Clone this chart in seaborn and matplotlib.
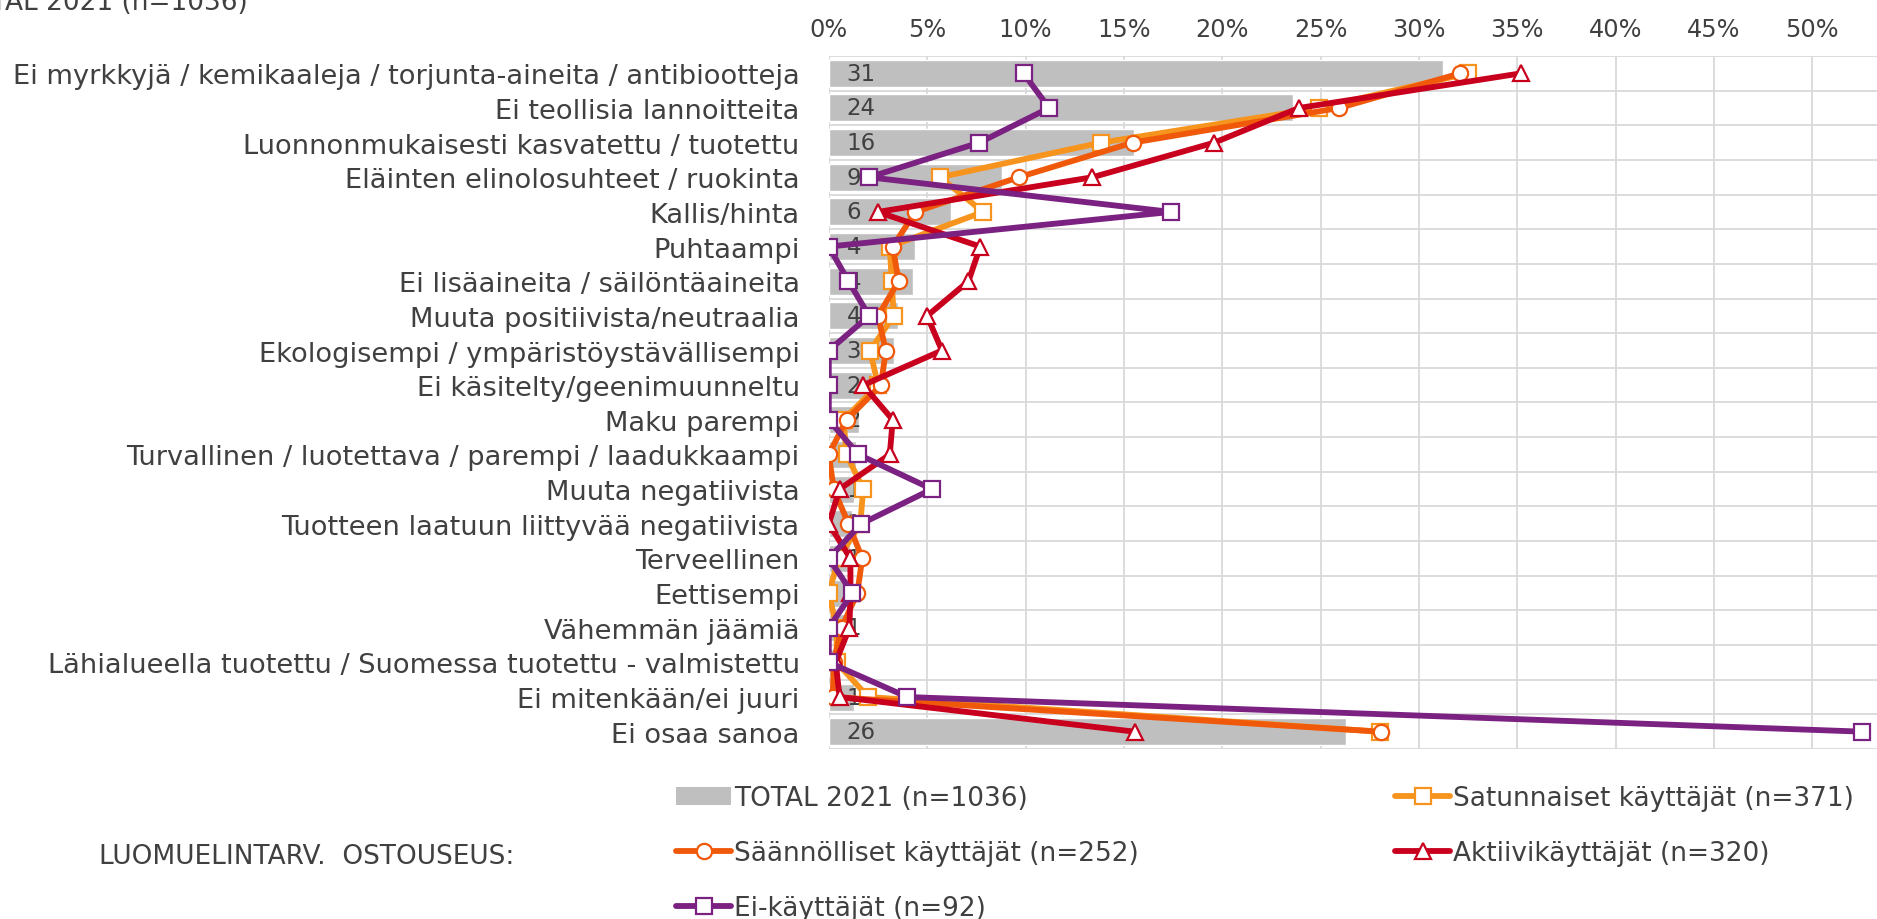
import numpy as np
import pandas as pd
import matplotlib
matplotlib.use("Agg")
import matplotlib.pyplot as plt
from matplotlib.lines import Line2D
from matplotlib.patches import Patch
import seaborn as sns

# Reasons given for organic food being different (%), by buyer group
categories = [
    "Ei myrkkyjä / kemikaaleja / torjunta-aineita / antibiootteja",
    "Ei teollisia lannoitteita",
    "Luonnonmukaisesti kasvatettu / tuotettu",
    "Eläinten elinolosuhteet / ruokinta",
    "Kallis/hinta",
    "Puhtaampi",
    "Ei lisäaineita / säilöntäaineita",
    "Muuta positiivista/neutraalia",
    "Ekologisempi / ympäristöystävällisempi",
    "Ei käsitelty/geenimuunneltu",
    "Maku parempi",
    "Turvallinen / luotettava / parempi / laadukkaampi",
    "Muuta negatiivista",
    "Tuotteen laatuun liittyvää negatiivista",
    "Terveellinen",
    "Eettisempi",
    "Vähemmän jäämiä",
    "Lähialueella tuotettu / Suomessa tuotettu - valmistettu",
    "Ei mitenkään/ei juuri",
    "Ei osaa sanoa",
]

total_2021 = [31.2, 23.6, 15.5, 8.8, 6.2, 4.4, 4.3, 3.5, 3.3, 2.2,
              1.55, 1.4, 1.3, 1.2, 1.1, 1.1, 0.9, 0.4, 1.3, 26.3]
satunnaiset = [32.5, 24.9, 13.85, 5.65, 7.85, 3.1, 3.2, 3.3, 2.1, 2.5,
               0.75, 0.9, 1.75, 1.6, 0.5, 0.0, 0.4, 0.4, 2.0, 28.0]
saannolliset = [32.1, 25.95, 15.45, 9.65, 4.4, 3.25, 3.55, 2.5, 2.9, 2.65,
                0.9, 0.0, 0.25, 1.0, 1.7, 1.45, 0.65, 0.25, 0.2, 28.05]
aktiivi = [35.2, 23.9, 19.6, 13.4, 2.5, 7.7, 7.1, 5.0, 5.75, 1.75,
           3.25, 3.1, 0.55, 0.0, 1.1, 1.1, 1.05, 0.35, 0.55, 15.55]
ei_kayttajat = [9.9, 11.2, 7.65, 2.05, 17.4, 0.0, 1.0, 2.05, 0.0, 0.0,
                0.0, 1.5, 5.25, 1.65, 0.0, 1.2, 0.0, 0.0, 4.0, 52.55]

x_ticks = [0, 5, 10, 15, 20, 25, 30, 35, 40, 45, 50]

label_total = "TOTAL 2021 (n=1036)"
series = [
    ("Satunnaiset käyttäjät (n=371)", satunnaiset, "#F7941D", "s", 11),
    ("Säännölliset käyttäjät (n=252)", saannolliset, "#F0580A", "o", 11),
    ("Aktiivikäyttäjät (n=320)", aktiivi, "#C8001E", "^", 12),
    ("Ei-käyttäjät (n=92)", ei_kayttajat, "#7B2181", "s", 11),
]

TEXT = "#404040"
GRID = "#D9D9D9"
FS_CAT = 19.6
FS_TICK = 17.3
FS_BAR = 16.5
FS_LEG = 19

sns.set_theme(style="white")
plt.rcParams["font.family"] = ["DejaVu Sans"]

W, H = 1877, 920
fig = plt.figure(figsize=(W / 100, H / 100), dpi=100)
left_px, right_px, top_px, bottom_px = 828.8, 1877, 57, 750
ax = fig.add_axes([left_px / W, 1 - bottom_px / H,
                   (right_px - left_px) / W, (bottom_px - top_px) / H])

df = pd.DataFrame({"kategoria": categories, "arvo": total_2021})
sns.barplot(data=df, y="kategoria", x="arvo", color="#BFBFBF", saturation=1,
            width=0.78, orient="h", ax=ax, zorder=1)

# value labels at the base of the bars
for i, v in enumerate(total_2021):
    if round(v) >= 1:
        ax.text(0.9, i, f"{round(v)}", ha="left", va="center",
                fontsize=FS_BAR, color=TEXT, zorder=2)

pos = np.arange(len(categories))
for z, (name, vals, col, mk, ms) in enumerate(series):
    d = pd.DataFrame({"y": pos, "x": vals})
    sns.lineplot(data=d, x="x", y="y", orient="y", sort=False, estimator=None,
                 color=col, lw=4.2, marker=mk, markersize=ms,
                 markerfacecolor="white", markeredgecolor=col,
                 markeredgewidth=1.6, ax=ax, zorder=3 + z, legend=False)

ax.set_xlim(0, (right_px - left_px) / 19.67)
ax.set_ylim(len(categories) - 0.5, -0.5)
ax.xaxis.tick_top()
ax.set_xticks(x_ticks)
ax.set_xticklabels([f"{t}%" for t in x_ticks])
ax.set_yticks(pos)
ax.set_yticklabels(categories)
ax.set_yticks(np.arange(len(categories) + 1) - 0.5, minor=True)
ax.set_xlabel("")
ax.set_ylabel("")
ax.tick_params(axis="x", which="both", length=0, pad=11, labelsize=FS_TICK,
               labelcolor=TEXT)
ax.tick_params(axis="y", which="both", length=0, pad=21, labelsize=FS_CAT,
               labelcolor=TEXT)
ax.grid(False)
ax.grid(True, axis="x", which="major", color=GRID, lw=1.3)
ax.grid(True, axis="y", which="minor", color=GRID, lw=1.3)
ax.set_axisbelow(True)
for s in ax.spines.values():
    s.set_visible(False)

# group title, partly above the canvas
fig.text(248 / W, 1 - 9.5 / H, "TOTAL 2021 (n=1036)", ha="right",
         va="baseline", fontsize=FS_LEG, color=TEXT)

fig.text(99 / W, 1 - 857 / H, "LUOMUELINTARV.  OSTOUSEUS:",
         ha="left", va="center", fontsize=FS_LEG, color=TEXT)


def line_handle(col, mk, ms):
    return Line2D([], [], color=col, lw=4.2, marker=mk, markersize=ms,
                  markerfacecolor="white", markeredgecolor=col,
                  markeredgewidth=1.6)


h_total = Patch(facecolor="#BFBFBF", edgecolor="none")
hs = {name: line_handle(col, mk, ms) for name, _, col, mk, ms in series}
names = [s[0] for s in series]

leg_kw = dict(frameon=False, fontsize=FS_LEG, labelcolor=TEXT, borderpad=0,
              borderaxespad=0, handlelength=2.1, handletextpad=0.1,
              labelspacing=1.1, numpoints=1, loc="upper left",
              bbox_transform=fig.transFigure)
leg1 = fig.legend([h_total, hs[names[1]], hs[names[3]]],
                  [label_total, names[1], names[3]],
                  bbox_to_anchor=(676 / W, 1 - 786 / H), **leg_kw)
leg2 = fig.legend([hs[names[0]], hs[names[2]]],
                  [names[0], names[2]],
                  bbox_to_anchor=(1395 / W, 1 - 786 / H), **leg_kw)

fig.savefig("out.png", dpi=100)
